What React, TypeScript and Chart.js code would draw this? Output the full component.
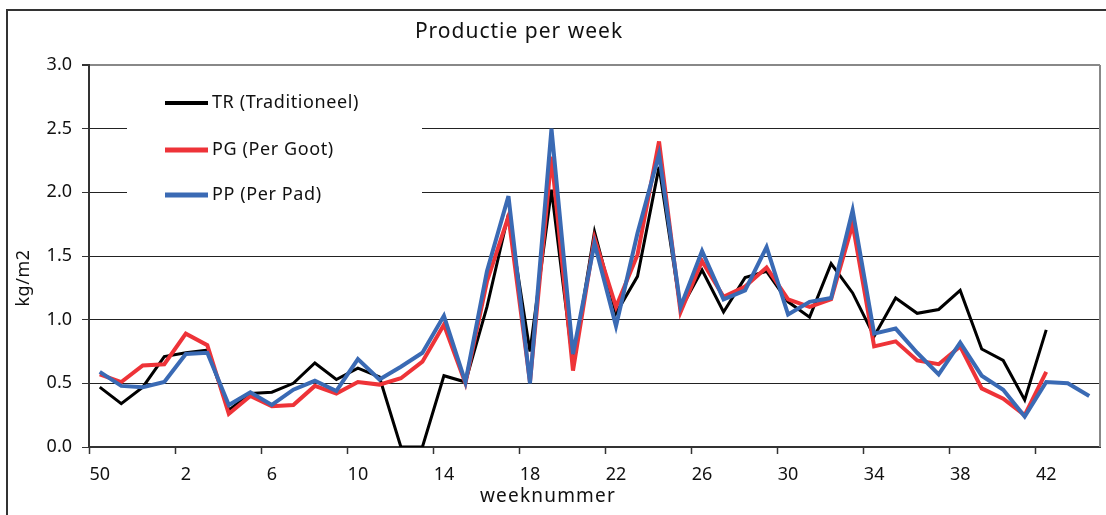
import React, { useEffect, useRef } from "react";
import { Chart, registerables } from "chart.js";

Chart.register(...registerables);

const weeks: string[] = [
  "50", "51", "52", "1", "2", "3", "4", "5", "6", "7", "8", "9", "10", "11", "12", "13",
  "14", "15", "16", "17", "18", "19", "20", "21", "22", "23", "24", "25", "26", "27", "28",
  "29", "30", "31", "32", "33", "34", "35", "36", "37", "38", "39", "40", "41", "42", "43", "44",
];

const trValues: (number | null)[] = [
  0.47, 0.34, 0.47, 0.71, 0.74, 0.76, 0.29, 0.42, 0.43, 0.5, 0.66, 0.53, 0.62, 0.55, 0, 0,
  0.56, 0.51, 1.1, 1.83, 0.75, 2.02, 0.65, 1.69, 1.05, 1.34, 2.2, 1.08, 1.39, 1.06, 1.33,
  1.38, 1.14, 1.02, 1.44, 1.21, 0.87, 1.17, 1.05, 1.08, 1.23, 0.77, 0.68, 0.37, 0.92, null, null,
];

const pgValues: (number | null)[] = [
  0.57, 0.51, 0.64, 0.65, 0.89, 0.8, 0.26, 0.4, 0.32, 0.33, 0.48, 0.42, 0.51, 0.49, 0.54, 0.67,
  0.96, 0.5, 1.3, 1.81, 0.51, 2.28, 0.6, 1.64, 1.1, 1.51, 2.4, 1.06, 1.46, 1.18, 1.26,
  1.41, 1.16, 1.1, 1.16, 1.75, 0.79, 0.83, 0.68, 0.65, 0.79, 0.46, 0.38, 0.25, 0.59, null, null,
];

const ppValues: (number | null)[] = [
  0.59, 0.48, 0.47, 0.51, 0.73, 0.74, 0.33, 0.43, 0.33, 0.45, 0.52, 0.44, 0.69, 0.53, 0.63, 0.74,
  1.03, 0.51, 1.38, 1.97, 0.5, 2.5, 0.73, 1.6, 0.95, 1.68, 2.3, 1.1, 1.54, 1.16, 1.23,
  1.57, 1.04, 1.14, 1.17, 1.86, 0.89, 0.93, 0.74, 0.57, 0.82, 0.56, 0.45, 0.24, 0.51, 0.5, 0.4,
];

const seriesNames: string[] = ["TR (Traditioneel)", "PG (Per Goot)", "PP (Per Pad)"];
const seriesColors: string[] = ["#000000", "#EE3338", "#3A6AB4"];
const seriesWidths: number[] = [3, 4, 4];

const titleText = "Productie per week";
const xTitle = "weeknummer";
const yTitle = "kg/m2";
const FONT = "'Noto Sans', 'Open Sans', sans-serif";

const decorPlugin = {
  id: "decor",
  beforeDatasetsDraw(chart: any) {
    const ctx = chart.ctx;
    const ca = chart.chartArea;
    ctx.save();
    // legend box
    ctx.fillStyle = "#ffffff";
    ctx.fillRect(127, 78, 295, 137);
    const rowsY = [103, 150, 195];
    ctx.font = `18px ${FONT}`;
    (ctx as any).letterSpacing = "0.6px";
    ctx.textBaseline = "middle";
    ctx.textAlign = "left";
    for (let i = 0; i < 3; i++) {
      ctx.strokeStyle = seriesColors[i];
      ctx.lineWidth = seriesWidths[i] + 1;
      ctx.beginPath();
      ctx.moveTo(165, rowsY[i]);
      ctx.lineTo(208, rowsY[i]);
      ctx.stroke();
      ctx.fillStyle = "#111";
      ctx.fillText(seriesNames[i], 212, rowsY[i]);
    }
    (ctx as any).letterSpacing = "0px";
    // right border of plot
    ctx.strokeStyle = "#888";
    ctx.lineWidth = 2;
    ctx.beginPath();
    ctx.moveTo(ca.right, ca.top);
    ctx.lineTo(ca.right, ca.bottom);
    ctx.stroke();
    ctx.restore();
    ctx.miterLimit = 5;
  },
  afterDatasetsDraw(chart: any) {
    chart.ctx.miterLimit = 10;
  },
  afterDraw(chart: any) {
    const ctx = chart.ctx;
    ctx.save();
    // outer frame
    ctx.strokeStyle = "#333";
    ctx.lineWidth = 2;
    ctx.beginPath();
    ctx.moveTo(7, 520);
    ctx.lineTo(7, 10);
    ctx.lineTo(1110, 10);
    ctx.stroke();
    // title
    ctx.fillStyle = "#111";
    ctx.font = `21px ${FONT}`;
    (ctx as any).letterSpacing = "1px";
    ctx.textAlign = "center";
    ctx.textBaseline = "middle";
    ctx.fillText(titleText, 519, 32);
    // x title
    ctx.font = `19px ${FONT}`;
    (ctx as any).letterSpacing = "1.2px";
    ctx.fillText(xTitle, 548, 497);
    // y title
    ctx.font = `18px ${FONT}`;
    (ctx as any).letterSpacing = "0.5px";
    ctx.translate(24, 278);
    ctx.rotate(-Math.PI / 2);
    ctx.fillText(yTitle, 0, 0);
    ctx.restore();
  },
};

export default function App() {
  const ref = useRef<HTMLCanvasElement | null>(null);
  useEffect(() => {
    if (!ref.current) return;
    const values = [trValues, pgValues, ppValues];
    const chart = new Chart(ref.current, {
      type: "line",
      data: {
        labels: weeks,
        datasets: values.map((v, i) => ({
          label: seriesNames[i],
          data: v,
          borderColor: seriesColors[i],
          backgroundColor: seriesColors[i],
          borderWidth: seriesWidths[i],
          pointRadius: 0,
          tension: 0,
          fill: false,
          spanGaps: false,
          order: 2 - i,
        })),
      },
      options: {
        responsive: false,
        animation: false,
        devicePixelRatio: 1,
        layout: { padding: { left: 0, top: 65, right: 6, bottom: 0 } },
        plugins: {
          legend: { display: false },
          title: { display: false },
          tooltip: { enabled: false },
        },
        scales: {
          x: {
            type: "category",
            offset: true,
            afterFit: (scale: any) => {
              scale.height = 68;
            },
            grid: {
              offset: true,
              drawOnChartArea: false,
              drawTicks: true,
              tickLength: 7,
              tickWidth: 1.5,
              tickColor: (c: any) => (c.index % 4 === 0 ? "#333" : "rgba(0,0,0,0)"),
            },
            border: { color: "#333", width: 2 },
            ticks: {
              autoSkip: false,
              maxRotation: 0,
              minRotation: 0,
              padding: 10,
              color: "#111",
              font: { family: FONT, size: 18 },
              callback: (_v: any, i: number) => (i % 4 === 0 ? weeks[i] : ""),
            },
          },
          y: {
            min: 0,
            max: 3,
            afterFit: (scale: any) => {
              scale.width = 89;
            },
            grid: {
              color: (c: any) => (c.tick && c.tick.value === 3 ? "#888" : "#222"),
              lineWidth: (c: any) => (c.tick && c.tick.value === 3 ? 2 : 1),
              drawTicks: true,
              tickLength: 7,
              tickColor: "#333",
            },
            border: { color: "#333", width: 2 },
            ticks: {
              stepSize: 0.5,
              padding: 10,
              color: "#111",
              font: { family: FONT, size: 18 },
              callback: (v: any) => Number(v).toFixed(1),
            },
          },
        },
      },
      plugins: [decorPlugin],
    });
    return () => chart.destroy();
  }, []);
  return (
    <div style={{ position: "fixed", left: 0, top: 0, width: 1106, height: 515, background: "#fff" }}>
      <canvas ref={ref} width={1106} height={515} style={{ width: 1106, height: 515, display: "block" }} />
    </div>
  );
}
